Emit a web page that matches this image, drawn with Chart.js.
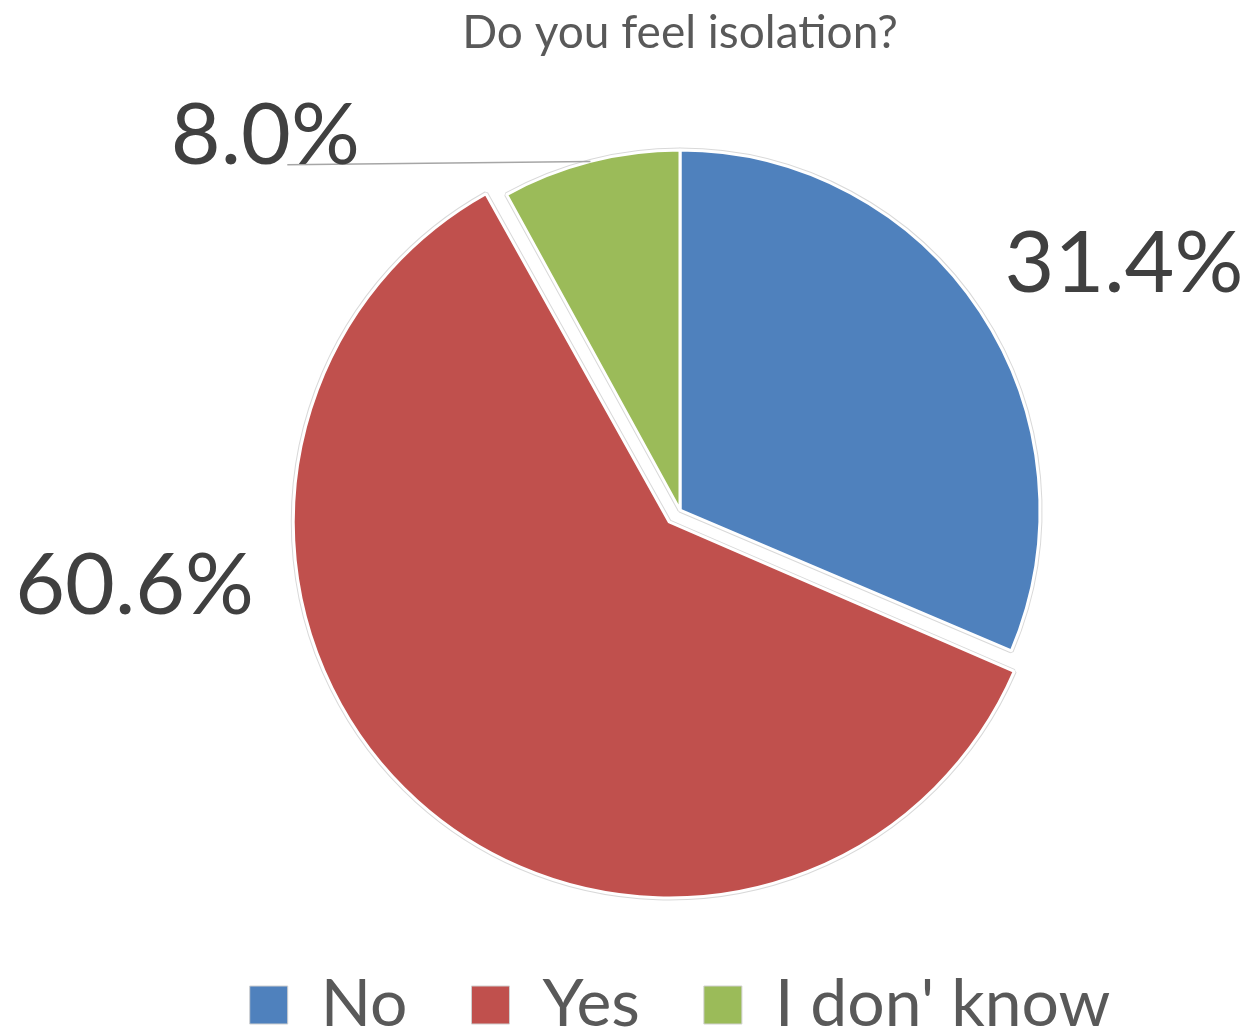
<!DOCTYPE html>
<html>
<head>
<meta charset="utf-8">
<script src="https://cdn.jsdelivr.net/npm/chart.js@4.4.0/dist/chart.umd.min.js"></script>
<style>
html, body { margin: 0; padding: 0; background: #fff; }
#wrap { width: 1249px; height: 1034px; }
</style>
</head>
<body>
<div id="wrap"><canvas id="isolation"></canvas></div>
<script>
const categories = ['No', 'Yes', "I don' know"];
const shares = [31.4, 60.6, 8.0];
const sliceColors = ['#4F81BD', '#C0504D', '#9BBB59'];
// Chart.js moves an offset slice by half this value
const explode = [0, 64, 0];

// where each percentage sits: angle in degrees (0 = east, clockwise) and distance in radii
const labelAngles = [-29, 172, -138];
const labelDist = [1.41, 1.53, 1.55];
const leaderLines = [false, false, true];

// thin grey rim just outside the white slice borders
const sliceRim = {
    id: 'sliceRim',
    beforeDatasetsDraw(chart) {
        const ctx = chart.ctx;
        chart.getDatasetMeta(0).data.forEach(arc => {
            const opts = arc.options;
            arc.options = Object.assign({}, opts, { borderColor: '#d9d9d9', borderWidth: 5 });
            arc.draw(ctx);
            arc.options = opts;
        });
    }
};

const sliceLabels = {
    id: 'sliceLabels',
    afterDatasetsDraw(chart) {
        const ctx = chart.ctx;
        const meta = chart.getDatasetMeta(0);
        const values = chart.data.datasets[0].data;
        ctx.save();
        ctx.font = '86px Lato';
        ctx.fillStyle = '#404040';
        ctx.textAlign = 'center';
        ctx.textBaseline = 'middle';
        meta.data.forEach((arc, i) => {
            const p = arc.getProps(['x', 'y', 'outerRadius', 'startAngle', 'endAngle'], true);
            const a = labelAngles[i] * Math.PI / 180;
            const lx = p.x + Math.cos(a) * p.outerRadius * labelDist[i];
            const ly = p.y + Math.sin(a) * p.outerRadius * labelDist[i];
            if (leaderLines[i]) {
                const mid = (p.startAngle + p.endAngle) / 2;
                ctx.beginPath();
                ctx.moveTo(lx + 22, ly + 28);
                ctx.lineTo(p.x + Math.cos(mid) * p.outerRadius, p.y + Math.sin(mid) * p.outerRadius);
                ctx.strokeStyle = '#a6a6a6';
                ctx.lineWidth = 1.5;
                ctx.stroke();
            }
            ctx.fillText(values[i].toFixed(1) + '%', lx, ly);
        });
        ctx.restore();
    }
};

function printPieChart(id) {
    const ctx = document.getElementById(id);
    new Chart(ctx, {
        type: 'pie',
        data: {
            labels: categories,
            datasets: [{
                data: shares,
                backgroundColor: sliceColors,
                borderColor: '#ffffff',
                borderWidth: 3,
                offset: explode
            }]
        },
        options: {
            responsive: true,
            maintainAspectRatio: false,
            animation: false,
            radius: 360,
            layout: {
                padding: { left: 111, right: 0, top: 0, bottom: -14 }
            },
            plugins: {
                tooltip: { enabled: false },
                title: {
                    display: true,
                    text: 'Do you feel isolation?',
                    color: '#595959',
                    font: { family: 'Lato', size: 46, weight: 'normal' },
                    padding: { top: 6, bottom: 51 }
                },
                legend: {
                    position: 'bottom',
                    labels: {
                        color: '#595959',
                        font: { family: 'Lato', size: 66 },
                        boxWidth: 38,
                        boxHeight: 38,
                        padding: 64,
                        generateLabels(chart) {
                            const items = Chart.overrides.pie.plugins.legend.labels.generateLabels(chart);
                            items.forEach(it => {
                                it.strokeStyle = '#d0d0d0';
                                it.lineWidth = 1;
                            });
                            return items;
                        }
                    }
                }
            }
        },
        plugins: [sliceRim, sliceLabels]
    });
}

printPieChart('isolation');
</script>
</body>
</html>
